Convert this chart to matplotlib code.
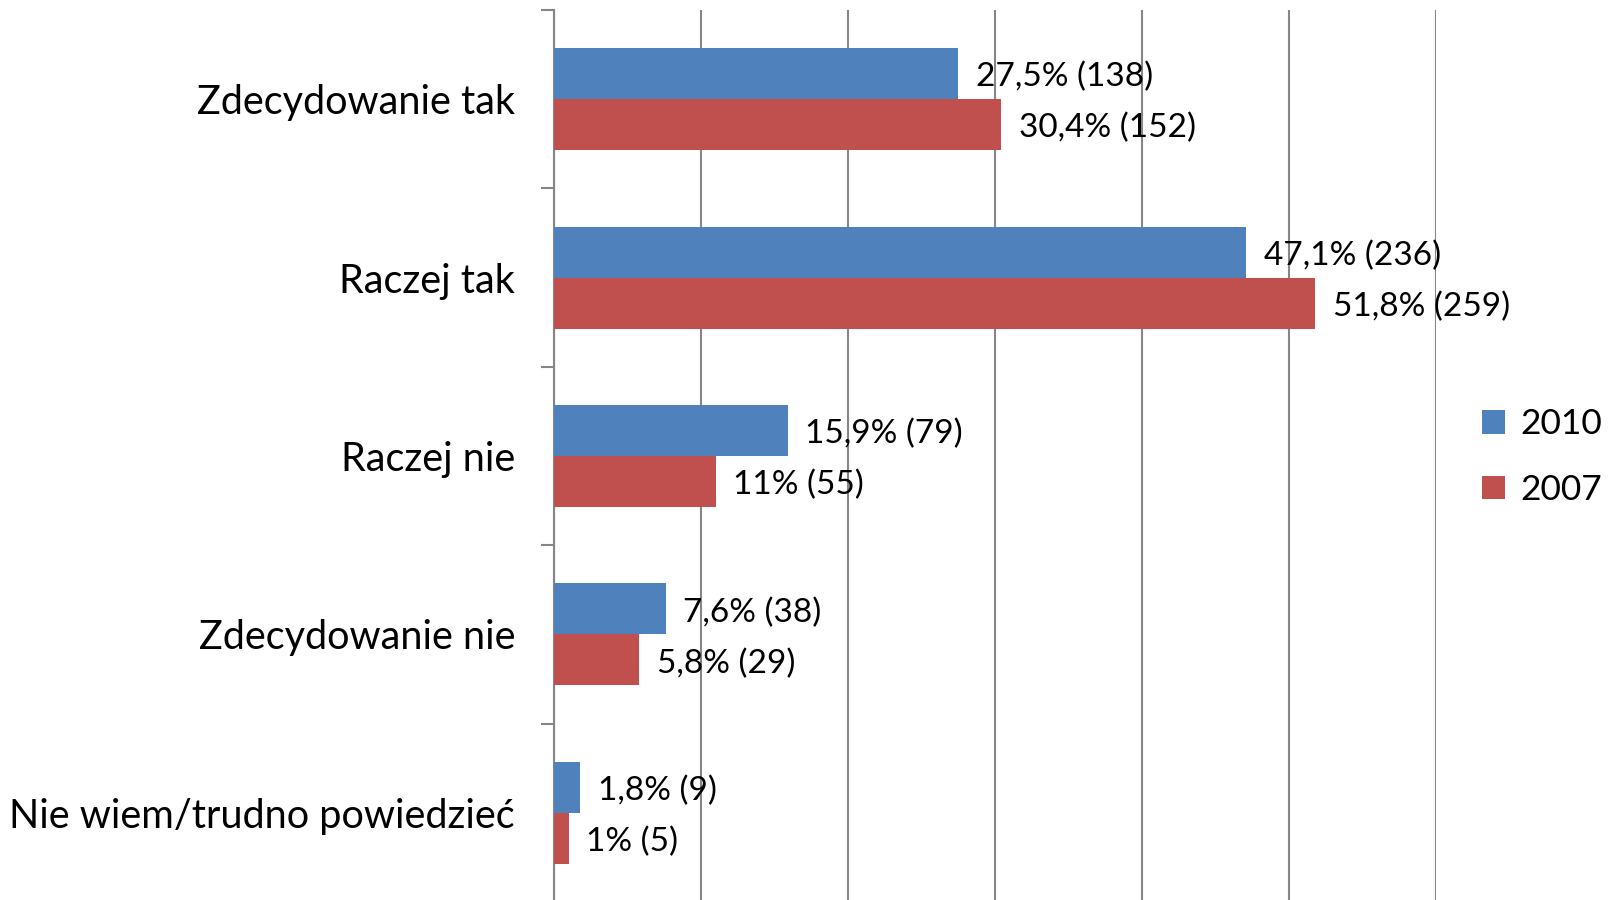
import matplotlib.pyplot as plt
import numpy as np

kategorie = ["Zdecydowanie tak", "Raczej tak", "Raczej nie", "Zdecydowanie nie",
             "Nie wiem/trudno powiedzieć"]
proc_2010 = [27.5, 47.1, 15.9, 7.6, 1.8]
liczba_2010 = [138, 236, 79, 38, 9]
proc_2007 = [30.4, 51.8, 11.0, 5.8, 1.0]
liczba_2007 = [152, 259, 55, 29, 5]

niebieski = "#4F81BD"
czerwony = "#C0504D"
szary = "#868686"


def etykieta(p, n):
    s = ("%.1f" % p).replace(".", ",")
    if s.endswith(",0"):
        s = s[:-2]
    return "%s%% (%d)" % (s, n)


plt.rcParams["font.family"] = ["Lato", "DejaVu Sans"]

fig = plt.figure(figsize=(16.23, 9), dpi=100)
ax = fig.add_axes([554 / 1623, -2 / 900, (1436 - 554) / 1623, 892 / 900])

y = np.arange(len(kategorie))
h = 0.286
ax.barh(y - h / 2, proc_2010, height=h, color=niebieski, label="2010", zorder=3)
ax.barh(y + h / 2, proc_2007, height=h, color=czerwony, label="2007", zorder=3)

for i in range(len(kategorie)):
    ax.text(proc_2010[i] + 1.2, y[i] - h / 2 + 0.02, etykieta(proc_2010[i], liczba_2010[i]),
            va="center", ha="left", fontsize=24, zorder=4)
    ax.text(proc_2007[i] + 1.2, y[i] + h / 2 + 0.02, etykieta(proc_2007[i], liczba_2007[i]),
            va="center", ha="left", fontsize=24, zorder=4)

ax.set_xlim(0, 60)
ax.set_ylim(len(kategorie) - 0.5, -0.5)
ax.set_xticks(np.arange(0, 61, 10))
ax.set_xticklabels([])
ax.tick_params(axis="x", length=0)
ax.grid(axis="x", color=szary, linewidth=1.5, zorder=0)

ax.set_yticks(y)
ax.set_yticklabels(kategorie, fontsize=28.5)
ax.set_yticks(np.arange(-0.5, len(kategorie) + 0.5, 1), minor=True)
ax.tick_params(axis="y", which="major", length=0, pad=28)
ax.tick_params(axis="y", which="minor", length=9.5, width=1.5, color=szary)

for s in ["top", "right", "bottom"]:
    ax.spines[s].set_visible(False)
ax.spines["left"].set_color(szary)
ax.spines["left"].set_linewidth(1.5)

fig.legend(loc="center left", bbox_to_anchor=(1450 / 1623, 1 - 457 / 900), frameon=False,
           fontsize=25.5, handlelength=0.65, handleheight=0.65, handletextpad=0.45,
           labelspacing=0.95)

fig.savefig("out.png", dpi=100)
